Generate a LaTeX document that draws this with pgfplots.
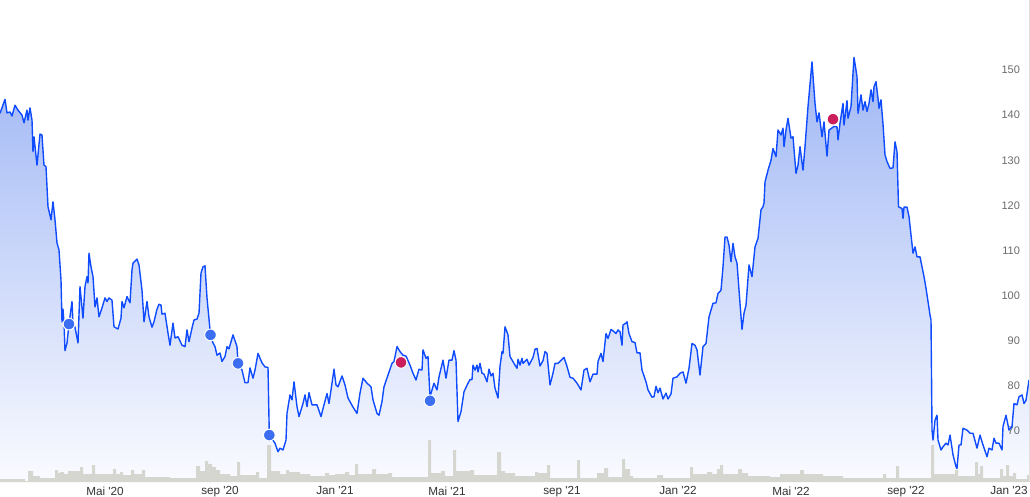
\documentclass[border=0pt]{standalone}
\usepackage{fontspec}
\setmainfont{Liberation Sans}
\usepackage{pgfplots}
\usepackage{pgfplotstable}
\pgfplotsset{compat=1.18}
\definecolor{linecol}{RGB}{16,76,255}
\definecolor{filltop}{RGB}{160,183,245}
\definecolor{fillbot}{RGB}{250,251,255}
\definecolor{volcol}{RGB}{214,214,208}
\definecolor{dotblue}{RGB}{59,110,240}
\definecolor{dotred}{RGB}{204,30,90}

\pgfplotstableread{
x y
0 140.4
5 143.5
7 140.5
10 140.7
12 139.8
15 142.2
18 141.1
22 140.0
24 138.3
27 141.1
28 138.9
30 141.6
32 138.9
33 131.9
34 135.2
37 128.9
40 135.8
42 135.6
44 128.9
46 128.6
48 119.7
51 116.8
53 120.8
55 116.8
57 111.7
59 110.1
61 103.5
62 94.2
63 97.0
64 93.9
65 87.8
67 89.5
69 93.7
72 98.7
73 93.9
75 93.0
78 89.5
80 102.0
83 95.0
85 102.0
87 104.2
88 102.8
89 109.4
91 106.4
93 104.2
95 97.5
97 99.5
99 95.3
102 97.3
105 99.5
107 98.7
109 99.5
112 99.0
114 93.1
118 92.6
121 95.0
122 98.7
124 97.3
127 99.8
130 98.4
132 105.7
133 107.2
137 108.1
139 106.8
142 101.2
144 94.2
147 98.7
149 95.3
152 93.0
154 94.2
157 97.0
159 98.1
161 97.9
162 95.9
165 96.1
168 91.7
170 89.0
173 93.9
175 90.6
178 90.9
182 89.0
185 88.7
187 92.4
189 89.8
192 92.8
194 94.6
197 94.8
199 96.1
201 105.0
203 106.4
205 106.6
207 99.5
210.5 91.3
213 89.5
215 88.7
217 86.8
220 87.3
222 85.4
225 86.5
227 88.7
229 88.2
233 91.3
237 88.7
238 85.0
242 83.5
245 80.7
248 80.7
250 84.0
253 81.7
255 83.5
258 87.2
262 85.1
265 84.2
268 84.1
269.3 69.1
275 67.3
278 65.4
280 66.2
283 65.8
286 68.0
287 73.9
290 78.0
292 76.9
294 80.9
297 75.4
299 73.2
303 76.1
305 78.0
307 75.4
309 78.5
312 75.8
317 75.8
321 73.2
324 75.8
327 78.3
329 76.1
332 80.6
334 83.7
336 80.2
338 79.8
342 82.2
345 80.2
348 77.3
351 76.1
353 75.3
357 73.9
360 78.4
363 81.7
367 80.6
371 79.8
373 76.9
377 73.9
379 73.5
382 76.5
384 79.8
388 82.4
392 85.0
394 85.4
397 88.7
400 87.6
403 86.8
406 86.6
410 84.6
413 82.8
416 81.3
419 83.7
422 83.5
423 88.0
426 86.1
428 86.5
430 77.5
432 79.1
434 80.6
437 79.1
439 82.0
443 85.7
446 81.7
449 85.7
452 85.7
454 87.8
456 85.7
458 72.1
461 74.3
464 78.7
468 80.6
470 81.4
472 81.4
473 84.6
475 83.5
477 84.6
478 83.1
480 85.0
482 82.8
484 82.6
487 80.9
489 83.7
491 82.2
493 82.8
495 79.5
498 77.3
500 84.3
502 87.6
503 87.2
505 93.1
508 91.3
510 86.5
515 84.6
517 83.9
518 85.9
520 84.6
522 86.1
523 85.0
527 85.9
529 84.6
533 86.3
535 88.1
537 88.3
540 84.4
543 85.6
545 87.6
547 87.2
550 80.2
553 82.8
555 85.0
558 85.0
562 85.9
564 86.3
567 84.3
570 81.9
573 81.7
577 80.6
581 79.1
584 83.5
587 83.9
590 80.9
593 82.6
597 82.6
598 85.4
601 87.2
603 85.4
606 91.6
608 90.5
611 92.5
613 92.2
616 91.6
618 92.4
620 92.0
622 89.0
623 93.5
626 93.9
627 94.2
629 91.6
632 89.8
635 89.6
637 87.3
640 87.3
642 83.5
646 80.9
648 79.1
652 77.5
654 77.6
656 79.9
658 78.5
660 79.5
663 77.1
666 78.4
668 77.1
671 78.2
673 81.7
677 82.0
680 82.8
683 83.1
686 80.6
689 83.9
692 89.4
695 89.0
697 88.0
700 82.4
703 88.7
706 89.4
709 95.3
713 98.3
716 98.4
718 100.5
721 101.2
723 106.4
725 113.0
727 113.0
729 111.2
731 107.5
733 111.6
735 108.6
737 107.2
739 101.2
742 92.5
744 96.1
746 97.9
749 106.8
752 104.2
755 110.8
758 112.7
761 119.0
763 119.7
764 120.5
765 125.2
768 127.8
771 130.0
773 132.6
776 130.8
778 136.7
781 135.6
783 137.1
784 133.0
786 136.7
788 139.3
791 134.9
793 135.2
796 127.1
798 128.9
800 133.0
803 127.8
805 133.0
808 141.9
812 151.8
815 142.6
817 138.5
819 140.5
822 135.2
824 138.5
827 130.9
829 136.7
831 137.0
834 137.5
837 137.4
838 134.5
840 138.2
843 142.6
844 137.8
847 143.2
848 139.3
851 141.9
853 149.3
854 152.8
857 148.5
858 140.4
861 144.5
863 141.1
865 143.0
867 140.8
869 142.6
871 145.6
873 143.0
874 146.3
876 147.4
878 143.7
879 141.5
881 143.4
883 138.0
885 131.2
887 129.7
890 128.2
893 128.3
895 134.1
897 131.9
898.5 119.7
902 119.3
903 117.1
904 119.6
907 119.6
909 117.5
913 109.4
915 110.8
917 108.6
920 108.6
922 106.4
924 104.2
926 101.6
928 98.7
930 95.7
931 94.6
932 70.2
933 68.0
935 72.4
937 73.5
938 68.0
941 65.8
943 66.5
946 67.3
948 66.9
950 69.1
952 66.2
953 64.7
956 62.1
957 61.7
959 66.9
961 66.9
963 70.6
967 70.2
970 69.5
973 69.5
977 66.2
980 69.1
983 66.9
987 64.3
989 66.2
992 65.8
994 68.4
996 67.3
999 67.3
1002 65.8
1003 71.0
1006 73.5
1009 70.2
1012 71.0
1014 76.1
1017 75.8
1019 77.6
1022 78.0
1024 76.1
1026 76.8
1029 81.3
}\price

\pgfplotstableread{
x v
0 3
25 1
28 11
33 6
40 4
55 12
58 9
60 10
64 8
68 11
80 15
83 8
92 17
95 8
113 13
116 8
120 10
123 7
131 12
134 8
142 12
145 5
170 4
196 16
200 11
205 21
208 18
212 15
216 12
220 8
230 6
237 20
240 7
256 10
259 4
267 37
271 11
280 8
286 12
289 10
300 8
310 6
325 9
329 7
335 8
345 10
349 7
355 18
358 8
372 13
376 8
388 9
392 5
428 42
431 9
441 11
445 6
453 32
456 11
470 12
474 7
497 30
501 11
505 9
515 6
535 10
538 9
547 17
550 4
577 22
580 4
597 9
604 14
608 5
622 23
625 13
630 6
633 4
657 7
663 4
690 15
693 8
707 10
712 8
717 13
720 17
723 8
738 13
742 9
748 6
770 5
780 8
800 12
804 8
823 6
843 4
883 8
886 4
896 16
899 4
931 37
934 8
955 12
958 6
975 20
978 8
980 16
983 4
1000 13
1003 6
1006 17
1009 6
1013 9
1016 3
1027 7
1030 7
}\volume

\pgfplotsset{base/.style={width=772.5pt, height=361.5pt, scale only axis,
  xmin=0, xmax=1030, at={(0,0)}, anchor=south west}}

\begin{document}
\begin{tikzpicture}
\begin{axis}[base, ymin=58.70, ymax=165.51, hide axis]
\addplot[draw=none, top color=filltop, bottom color=fillbot] table {\price} |- (axis cs:0,58.70) -- cycle;
\end{axis}
\begin{axis}[base, ymin=0, ymax=482, hide axis]
\addplot[const plot, fill=volcol, draw=none] table {\volume} \closedcycle;
\end{axis}
\begin{axis}[base, ymin=58.70, ymax=165.51,
  axis line style={draw=none},
  major tick length=0pt, tick style={draw=none},
  xtick={105,220,335,447,562,678,791,906,1009},
  xticklabels={Mai \textquotesingle20, sep \textquotesingle20, Jan \textquotesingle21, Mai \textquotesingle21, sep \textquotesingle21, Jan \textquotesingle22, Mai \textquotesingle22, sep \textquotesingle22, Jan \textquotesingle23},
  ytick={70,80,...,150},
  yticklabel pos=right,
  /pgf/number format/assume math mode=true,
  xticklabel style={font=\fontsize{8.8}{10}\selectfont, text=black!80},
  yticklabel style={font=\fontsize{8.25}{10}\selectfont, text=black!58, anchor=east, xshift=-4pt},
]
\addplot[linecol, line width=1.05pt, line join=round] table {\price};
\addplot[only marks, mark=*, mark size=4.4pt, mark options={fill=dotblue, draw=white, line width=0.75pt}] coordinates {(69,93.7) (210.5,91.3) (238,85.0) (269.3,69.1) (430,76.7)};
\addplot[only marks, mark=*, mark size=4.4pt, mark options={fill=dotred, draw=white, line width=0.75pt}] coordinates {(401,85.2) (833,139.1)};
\draw[black!12] (rel axis cs:0.9995,0) -- (rel axis cs:0.9995,1);
\end{axis}
\pgfresetboundingbox
\path (0pt,-10.5pt) rectangle (772.5pt,361.5pt);
\end{tikzpicture}
\end{document}
